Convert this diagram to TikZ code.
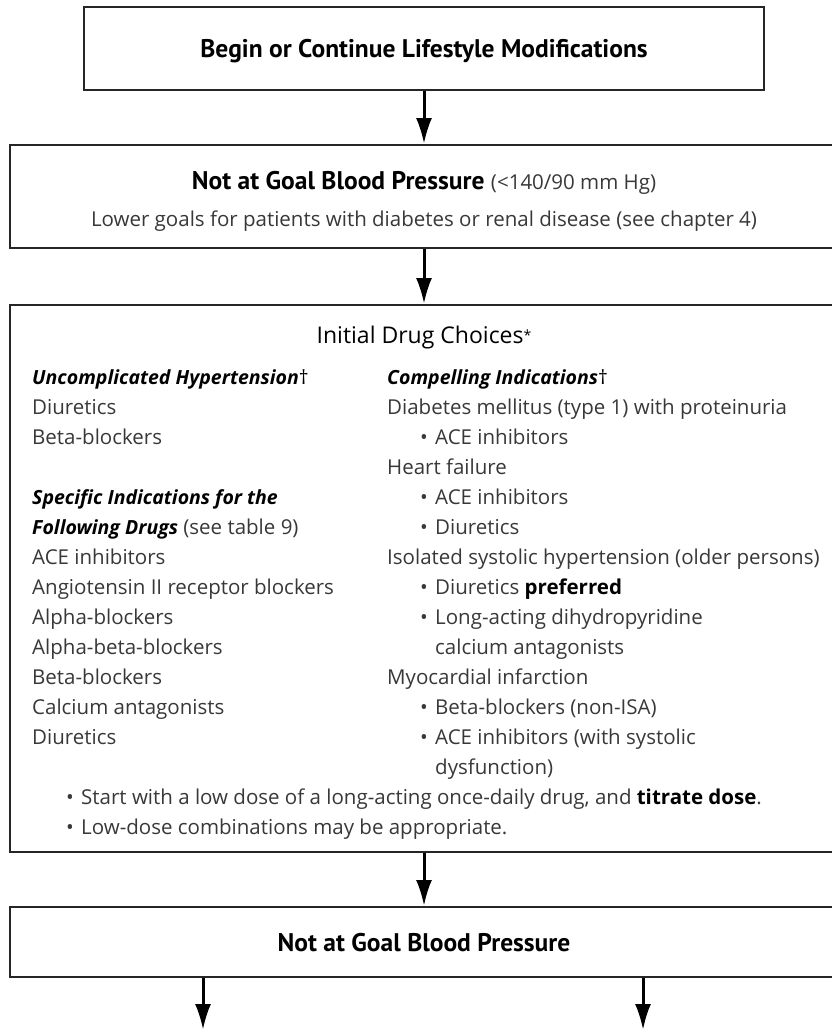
\documentclass[tikz,border=0pt]{standalone}
\usepackage{fontspec}
\setmainfont{Open Sans}
\newfontfamily\headfont{PT Sans}
\usetikzlibrary{arrows.meta}
\definecolor{ink}{HTML}{383838}
\tikzset{
  box/.style={draw=black!85, line width=2pt, rectangle, inner sep=0pt},
  arr/.style={line width=3pt, draw=black, -{Latex[length=26pt,width=16pt]}},
  txt/.style={anchor=base west, inner sep=0pt, text=ink, font=\fontsize{20.5}{24}\selectfont},
  ctxt/.style={txt, anchor=base},
  ttl/.style={anchor=base, inner sep=0pt, text=black, font=\fontsize{25.5}{28}\selectfont\headfont\bfseries},
  sub/.style={txt, text=black, font=\fontsize{19.5}{24}\selectfont},
}
\newcommand{\itm}{\makebox[15pt][l]{\textbullet}}
\begin{document}
\begin{tikzpicture}[x=1pt,y=-1pt]
\useasboundingbox (0,0) rectangle (832,1029);
\clip (0,0) rectangle (832,1029);

% boxes
\node[box, minimum width=680pt, minimum height=83pt]  (start) at (424,48.5) {};
\node[box, minimum width=828pt, minimum height=103pt] (goal1) at (424,196.5) {};
\node[box, minimum width=828pt, minimum height=547pt] (drugs) at (424,578.5) {};
\node[box, minimum width=828pt, minimum height=70pt]  (goal2) at (424,942) {};

% box texts
\node[ttl] (t1) at (424,57) {Begin or Continue Lifestyle Modifications};
\node[ttl] (t2) at (424,189) {Not at Goal Blood Pressure \normalfont\fontsize{20.5}{24}\selectfont\color{ink}(<140/90 mm Hg)};
\node[ctxt] (t3) at (424,226) {Lower goals for patients with diabetes or renal disease (see chapter 4)};
\node[ctxt, text=black, font=\fontsize{23}{26}\selectfont] (t4) at (424,343) {Initial Drug Choices\raisebox{3pt}{\fontsize{14}{14}\selectfont*}};
\node[ttl] (t5) at (424,951) {Not at Goal Blood Pressure};

% left column
\node[sub] (l1) at (32,384) {\textbf{\textit{Uncomplicated Hypertension}}†};
\node[txt] (l2)  at (32,414) {Diuretics};
\node[txt] (l3)  at (32,444) {Beta-blockers};
\node[sub] (l4) at (32,504) {\textbf{\textit{Specific Indications for the}}};
\node[txt] (l5)  at (32,534) {\textcolor{black}{\fontsize{19.5}{24}\selectfont\textbf{\textit{Following Drugs}}} (see table 9)};
\node[txt] (l6)  at (32,564) {ACE inhibitors};
\node[txt] (l7)  at (32,594) {Angiotensin II receptor blockers};
\node[txt] (l8)  at (32,624) {Alpha-blockers};
\node[txt] (l9)  at (32,654) {Alpha-beta-blockers};
\node[txt] (l10) at (32,684) {Beta-blockers};
\node[txt] (l11) at (32,714) {Calcium antagonists};
\node[txt] (l12) at (32,744) {Diuretics};

% right column
\node[sub] (r1) at (387,384) {\textbf{\textit{Compelling Indications}}†};
\node[txt] (r2)  at (387,414) {Diabetes mellitus (type 1) with proteinuria};
\node[txt] (r3)  at (420,444) {\itm ACE inhibitors};
\node[txt] (r4)  at (387,474) {Heart failure};
\node[txt] (r5)  at (420,504) {\itm ACE inhibitors};
\node[txt] (r6)  at (420,534) {\itm Diuretics};
\node[txt] (r7)  at (387,564) {Isolated systolic hypertension (older persons)};
\node[txt] (r8)  at (420,594) {\itm Diuretics \textcolor{black}{\textbf{preferred}}};
\node[txt] (r9)  at (420,624) {\itm Long-acting dihydropyridine};
\node[txt] (r10) at (435,654) {calcium antagonists};
\node[txt] (r11) at (387,684) {Myocardial infarction};
\node[txt] (r12) at (420,714) {\itm Beta-blockers (non-ISA)};
\node[txt] (r13) at (420,744) {\itm ACE inhibitors (with systolic};
\node[txt] (r14) at (435,774) {dysfunction)};

% notes across the box
\node[txt] (n1) at (66,804) {\itm Start with a low dose of a long-acting once-daily drug, and \textcolor{black}{\textbf{titrate dose}}.};
\node[txt] (n2) at (66,834) {\itm Low-dose combinations may be appropriate.};

% connectors
\draw[arr] (start.south) -- (goal1.north);
\draw[arr] (goal1.south) -- (drugs.north);
\draw[arr] (drugs.south) -- (goal2.north);
\coordinate (outL) at (203,1030);
\coordinate (outR) at (643,1030);
\draw[arr] (outL |- goal2.south) -- (outL);
\draw[arr] (outR |- goal2.south) -- (outR);
\end{tikzpicture}
\end{document}
